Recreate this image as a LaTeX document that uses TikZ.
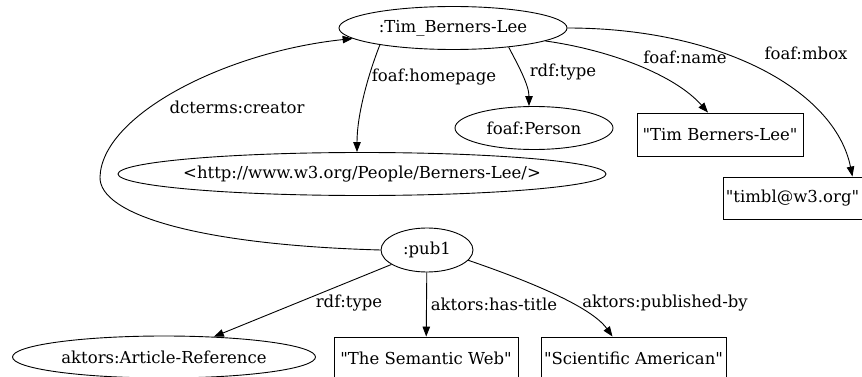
\documentclass[tikz,border=0pt]{standalone}
\usepackage{fontspec}
\setmainfont{DejaVu Serif}[Ligatures=TeXOff]
\usetikzlibrary{shapes.geometric,arrows.meta}
\tikzset{
  res/.style={ellipse,draw,line width=0.9pt,inner xsep=-30pt,inner ysep=-5pt,font=\fontsize{16.5}{19}\selectfont},
  lit/.style={rectangle,draw,line width=0.9pt,inner sep=0pt,font=\fontsize{16.5}{19}\selectfont},
  lbl/.style={inner sep=0pt,font=\fontsize{16.5}{19}\selectfont},
  edge/.style={line width=0.9pt,-{Triangle[length=10pt,width=7.5pt]}}
}
\begin{document}
\begin{tikzpicture}[x=1pt,y=-1pt]
\useasboundingbox (0,0) rectangle (862,377);
\fill[white] (0,0) rectangle (862,377);
\clip (0,0) rectangle (862,377);
% nodes
\node[res,minimum width=228pt,minimum height=43pt] (tim) at (453,28) {:Tim\_Berners-Lee};
\node[res,minimum width=158pt,minimum height=43pt] (person) at (534,128) {foaf:Person};
\node[lit,minimum width=166pt,minimum height=43pt] (name) at (720,134.5) {"Tim Berners-Lee"};
\node[lit,minimum width=139pt,minimum height=42pt] (mbox) at (792.5,198) {"timbl@w3.org"};
\node[res,minimum width=488pt,minimum height=43pt] (home) at (362,174) {<http://www.w3.org/People/Berners-Lee/>};
\node[res,minimum width=92pt,minimum height=44pt] (pub) at (427,250) {:pub1};
\node[res,minimum width=303pt,minimum height=42pt] (art) at (164,357) {aktors:Article-Reference};
\node[lit,minimum width=184pt,minimum height=43pt] (sem) at (426,358.5) {"The Semantic Web"};
\node[lit,minimum width=185pt,minimum height=43pt] (sci) at (633.5,358.5) {"Scientific American"};
% edges
\draw[edge] (tim.193) .. controls (368,75) and (357,115) .. ([xshift=-5pt]home.north);
\draw[edge] (tim.341) .. controls (518,65) and (529,85) .. ([xshift=-5pt]person.north);
\draw[edge] (tim.352) .. controls (610,50) and (675,75) .. ([xshift=-12pt]name.north);
\draw[edge] (tim.east) .. controls (720,28) and (835,90) .. ([xshift=-10pt]mbox.north east);
\draw[edge] (pub.west) .. controls (200,245) and (99,215) .. (100,177)
   .. controls (102,115) and (225,52) .. (tim.186);
\draw[edge] (pub) -- (art);
\draw[edge] (pub) -- (sem);
\draw[edge] (pub.346) .. controls (520,278) and (590,305) .. ([xshift=-21pt]sci.north);
% labels
\node[lbl] (l1) at (434,77) {foaf:homepage};
\node[lbl] (l2) at (563,72) {rdf:type};
\node[lbl] (l3) at (685,57) {foaf:name};
\node[lbl] (l4) at (806,53) {foaf:mbox};
\node[lbl] (l5) at (237,107) {dcterms:creator};
\node[lbl] (l6) at (349,303) {rdf:type};
\node[lbl] (l7) at (494,304) {aktors:has-title};
\node[lbl] (l8) at (665,303) {aktors:published-by};
\end{tikzpicture}
\end{document}
